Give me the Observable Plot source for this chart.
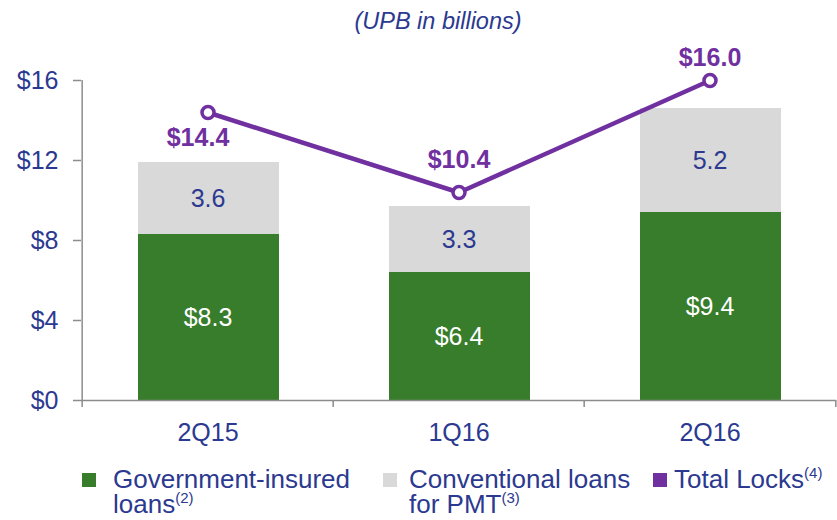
<!DOCTYPE html>
<html>
<head>
<meta charset="utf-8">
<script src="https://cdn.jsdelivr.net/npm/d3@7"></script>
<script src="https://cdn.jsdelivr.net/npm/@observablehq/plot@0.6"></script>
<style>
  body { margin: 0; background: #fff; }
  #wrap { position: relative; width: 837px; height: 520px; font-family: "Liberation Sans", Arial, sans-serif; color: #2b3990; overflow: hidden; }
  #title { position: relative; top: 1px; height: 40px; line-height: 40px; font-size: 23.5px; font-style: italic; text-align: center; padding-left: 39px; box-sizing: border-box; width: 837px; }
  #chart { height: 415px; }
  #legend { position: relative; height: 65px; }
  .sq { position: absolute; width: 14px; height: 14px; top: 18px; }
  .lt { position: absolute; top: 12px; font-size: 26px; line-height: 25px; white-space: nowrap; }
  .sup { font-size: 15px; position: relative; top: -10px; }
</style>
</head>
<body>
<div id="wrap">
  <div id="title">(UPB in billions)</div>
  <div id="chart"></div>
  <div id="legend"></div>
</div>
<script>
// ---- data ----
const categories = ["2Q15", "1Q16", "2Q16"];
const governmentInsured = [8.3, 6.4, 9.4];
const conventionalLoans = [3.6, 3.3, 5.2];
const totalLocks = [14.4, 10.4, 16.0];
const yTicks = [0, 4, 8, 12, 16];
const seriesNames = ["Government-insured loans", "Conventional loans for PMT"];
const legendLines = [["Government-insured", "loans"], ["Conventional loans", "for PMT"], ["Total Locks"]];
const legendNotes = ["(2)", "(3)", "(4)"];

// ---- styles ----
const green = "#387d2b", gray = "#d9d9d9", purple = "#7030a0", navy = "#2b3990", axisGray = "#8c8c8c";

const rows = [];
categories.forEach((c, i) => {
  rows.push({cat: c, series: seriesNames[0], value: governmentInsured[i]});
  rows.push({cat: c, series: seriesNames[1], value: conventionalLoans[i]});
});
const totals = categories.map((c, i) => ({cat: c, total: totalLocks[i], i}));

const W = 837, mL = 81, mR = 1;
const bw = (W - mL - mR) / categories.length;

const fmt1 = v => v.toFixed(1);

const chart = Plot.plot({
  width: W,
  height: 415,
  marginTop: 40,
  marginBottom: 55,
  marginLeft: mL,
  marginRight: mR,
  style: {fontFamily: "'Liberation Sans', Arial, sans-serif", background: "white", overflow: "visible"},
  x: {domain: categories, padding: 0, axis: null, label: null},
  y: {domain: [0, 16], axis: null, label: null},
  color: {domain: seriesNames, range: [green, gray]},
  marks: [
    Plot.barY(rows, {x: "cat", y: "value", fill: "series", insetLeft: 56, insetRight: 54}),
    Plot.text(rows, Plot.stackY({x: "cat", y: "value",
      text: d => d.series === seriesNames[0] ? "$" + fmt1(d.value) : null,
      fill: "white", fontSize: 25})),
    Plot.text(rows, Plot.stackY({x: "cat", y: "value",
      text: d => d.series === seriesNames[1] ? fmt1(d.value) : null,
      fill: navy, fontSize: 25})),
    Plot.ruleY([0], {stroke: axisGray, strokeWidth: 1.5}),
    Plot.ruleX(categories, {x: d => d, dx: -bw / 2, y1: -0.35, y2: 0, stroke: axisGray, strokeWidth: 1.5}),
    Plot.ruleX(categories.slice(-1), {x: d => d, dx: bw / 2, y1: -0.35, y2: 0, stroke: axisGray, strokeWidth: 1.5}),
    Plot.ruleX(categories.slice(0, 1), {x: d => d, dx: -bw / 2, y1: 0, y2: 16, stroke: axisGray, strokeWidth: 1.5}),
    Plot.axisY({ticks: yTicks, tickSize: 8, tickPadding: 15, tickFormat: d => "$" + d, label: null,
      fontSize: 25, stroke: axisGray, fill: navy, strokeWidth: 1.5}),
    Plot.axisX({tickSize: 0, tickPadding: 23, fontSize: 25, fill: navy, label: null}),
    Plot.lineY(totals, {x: "cat", y: "total", stroke: purple, strokeWidth: 4.5}),
    Plot.dot(totals, {x: "cat", y: "total", r: 6, fill: "white", stroke: purple, strokeWidth: 3.5}),
    Plot.text(totals, {filter: d => d.i === 0, x: "cat", y: "total", text: d => "$" + fmt1(d.total),
      dx: -10, dy: 25, fill: purple, fontWeight: "bold", fontSize: 25}),
    Plot.text(totals, {filter: d => d.i === 1, x: "cat", y: "total", text: d => "$" + fmt1(d.total),
      dy: -33, fill: purple, fontWeight: "bold", fontSize: 25}),
    Plot.text(totals, {filter: d => d.i === 2, x: "cat", y: "total", text: d => "$" + fmt1(d.total),
      dy: -23, fill: purple, fontWeight: "bold", fontSize: 25})
  ]
});
document.getElementById("chart").appendChild(chart);

// ---- legend ----
const legend = document.getElementById("legend");
const legendColors = [green, gray, purple];
const sqLeft = [82, 383, 653];
const txtLeft = [113, 409, 674];
legendLines.forEach((lines, k) => {
  const sq = document.createElement("div");
  sq.className = "sq";
  sq.style.left = sqLeft[k] + "px";
  sq.style.background = legendColors[k];
  legend.appendChild(sq);
  const t = document.createElement("div");
  t.className = "lt";
  t.style.left = txtLeft[k] + "px";
  lines.forEach((ln, j) => {
    if (j > 0) t.appendChild(document.createElement("br"));
    t.appendChild(document.createTextNode(ln));
  });
  const s = document.createElement("span");
  s.className = "sup";
  s.textContent = legendNotes[k];
  t.appendChild(s);
  legend.appendChild(t);
});
</script>
</body>
</html>
